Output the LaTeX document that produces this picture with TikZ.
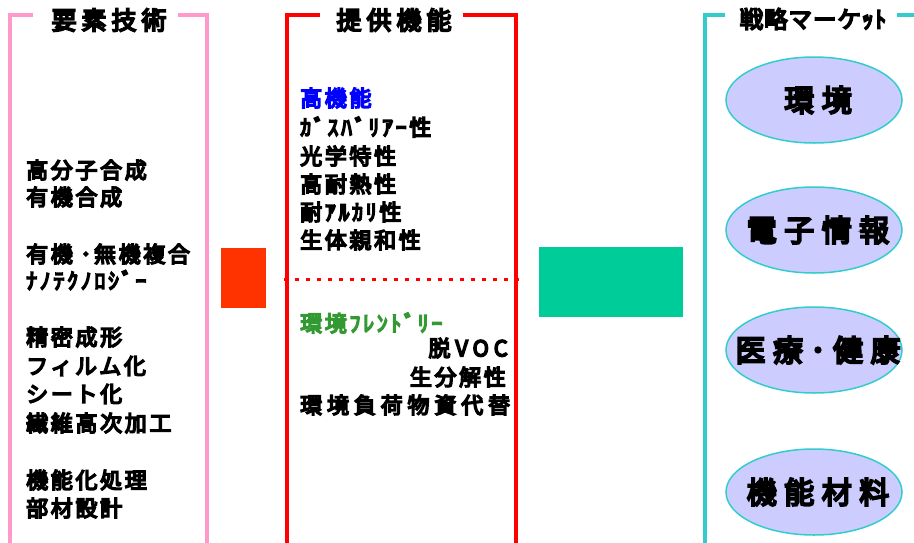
\documentclass[tikz,border=0pt]{standalone}
\usepackage{fontspec}
\usetikzlibrary{shapes.geometric}
\newfontfamily\jpbody{Noto Sans CJK JP}[LetterSpace=12, FakeBold=7]
\newfontfamily\jpwide{Noto Sans CJK JP}[LetterSpace=22, FakeBold=7]
\newfontfamily\jptitle{Noto Sans CJK JP}[LetterSpace=20, FakeBold=7]
\newfontfamily\jpmkt{Noto Sans CJK JP}[LetterSpace=4, FakeBold=7]
\newfontfamily\jpell{Noto Sans CJK JP}[LetterSpace=25, FakeBold=7]
\definecolor{pinkc}{HTML}{FF99CC}
\definecolor{redc}{HTML}{FF0000}
\definecolor{cyanc}{HTML}{33CCCC}
\definecolor{lav}{HTML}{CCCCFF}
\definecolor{orbox}{HTML}{FF3300}
\definecolor{grbox}{HTML}{00CC99}
\definecolor{bluetxt}{HTML}{0000FF}
\definecolor{greentxt}{HTML}{339933}
\tikzset{
  lbl/.style={font=\jpbody\fontsize{22}{26}\selectfont, inner sep=0pt, anchor=west},
  lblr/.style={font=\jpbody\fontsize{22}{26}\selectfont, inner sep=0pt, anchor=east},
  ttl/.style={font=\jptitle\fontsize{25}{28}\selectfont, inner sep=0pt},
  mkttl/.style={font=\jpmkt\fontsize{23.5}{28}\selectfont, inner sep=0pt},
  mkt/.style={ellipse, draw=cyanc, fill=lav, line width=1.5pt, minimum width=176pt, minimum height=86pt, inner sep=0pt},
  elltxt/.style={font=\jpell\fontsize{30}{34}\selectfont, inner sep=0pt, xshift=4pt},
  pinkline/.style={draw=pinkc, line width=3.5pt},
  redline/.style={draw=redc, line width=3.5pt},
  cyanline/.style={draw=cyanc, line width=3.5pt},
}
\begin{document}
\begin{tikzpicture}[x=1pt,y=-1pt]
\useasboundingbox[fill=white] (0,0) rectangle (914,542);
% brackets
\draw[pinkline] (33,15) -| (10,546);
\draw[pinkline] (178,15) -| (207,546);
\draw[redline] (320,15) -| (287,546);
\draw[redline] (463,15) -| (516,546);
\draw[cyanline] (725,15) -| (705,546);
\draw[cyanline] (897,15) -- (918,15);
% titles
\node[ttl] (t1) at (109,20) {要素技術};
\node[ttl] (t2) at (394,20) {提供機能};
\node[mkttl] (t3) at (813,19) {戦略マーケｯﾄ};
% left column
\node[lbl] (l1) at (26,170) {高分子合成};
\node[lbl] (l2) at (26,197) {有機合成};
\node[lbl] (l3) at (26,254) {有機 ･無機複合};
\node[lbl] (l4) at (26,280) {ﾅﾉﾃｸﾉﾛｼﾞｰ};
\node[lbl] (l5) at (26,337) {精密成形};
\node[lbl] (l6) at (26,366) {フィルム化};
\node[lbl] (l7) at (26,394) {シート化};
\node[lbl] (l8) at (26,423) {繊維高次加工};
\node[lbl] (l9) at (26,480) {機能化処理};
\node[lbl] (l10) at (26,508) {部材設計};
% middle column
\node[lbl, text=bluetxt] (m1) at (300,98) {高機能};
\node[lbl] (m2) at (300,127) {ｶﾞｽﾊﾞﾘｱｰ性};
\node[lbl] (m3) at (300,156) {光学特性};
\node[lbl] (m4) at (300,184) {高耐熱性};
\node[lbl] (m5) at (300,212) {耐ｱﾙｶﾘ性};
\node[lbl] (m6) at (300,240) {生体親和性};
\node[lbl, text=greentxt] (m7) at (300,323) {環境ﾌﾚﾝﾄﾞﾘｰ};
\node[lblr, font=\jpwide\fontsize{22}{26}\selectfont] (m8) at (508,348) {脱VOC};
\node[lblr] (m9) at (506,377) {生分解性};
\node[lbl, font=\jpwide\fontsize{22}{26}\selectfont] (m10) at (300,405) {環境負荷物資代替};
% boxes
\node[fill=orbox, inner sep=0pt, minimum width=45pt, minimum height=60pt] (rbox) at (243.5,277.5) {};
\node[fill=grbox, inner sep=0pt, minimum width=144pt, minimum height=70pt] (gbox) at (611,282) {};
% dotted separator
\coordinate (dotL) at (284,279);
\coordinate (dotR) at (523,279);
\draw[redc, line width=3pt, dash pattern=on 3.5pt off 7.5pt] (dotL) -- (dotR);
% markets
\node[mkt] (e1) at (814,100) {};
\node[mkt] (e2) at (814,230) {};
\node[mkt] (e3) at (814,350) {};
\node[mkt] (e4) at (814,492) {};
\node[elltxt] (e1t) at (e1) {環境};
\node[elltxt] (e2t) at (e2) {電子情報};
\node[elltxt] (e3t) at (e3) {医療･健康};
\node[elltxt] (e4t) at (e4) {機能材料};
\end{tikzpicture}
\end{document}
